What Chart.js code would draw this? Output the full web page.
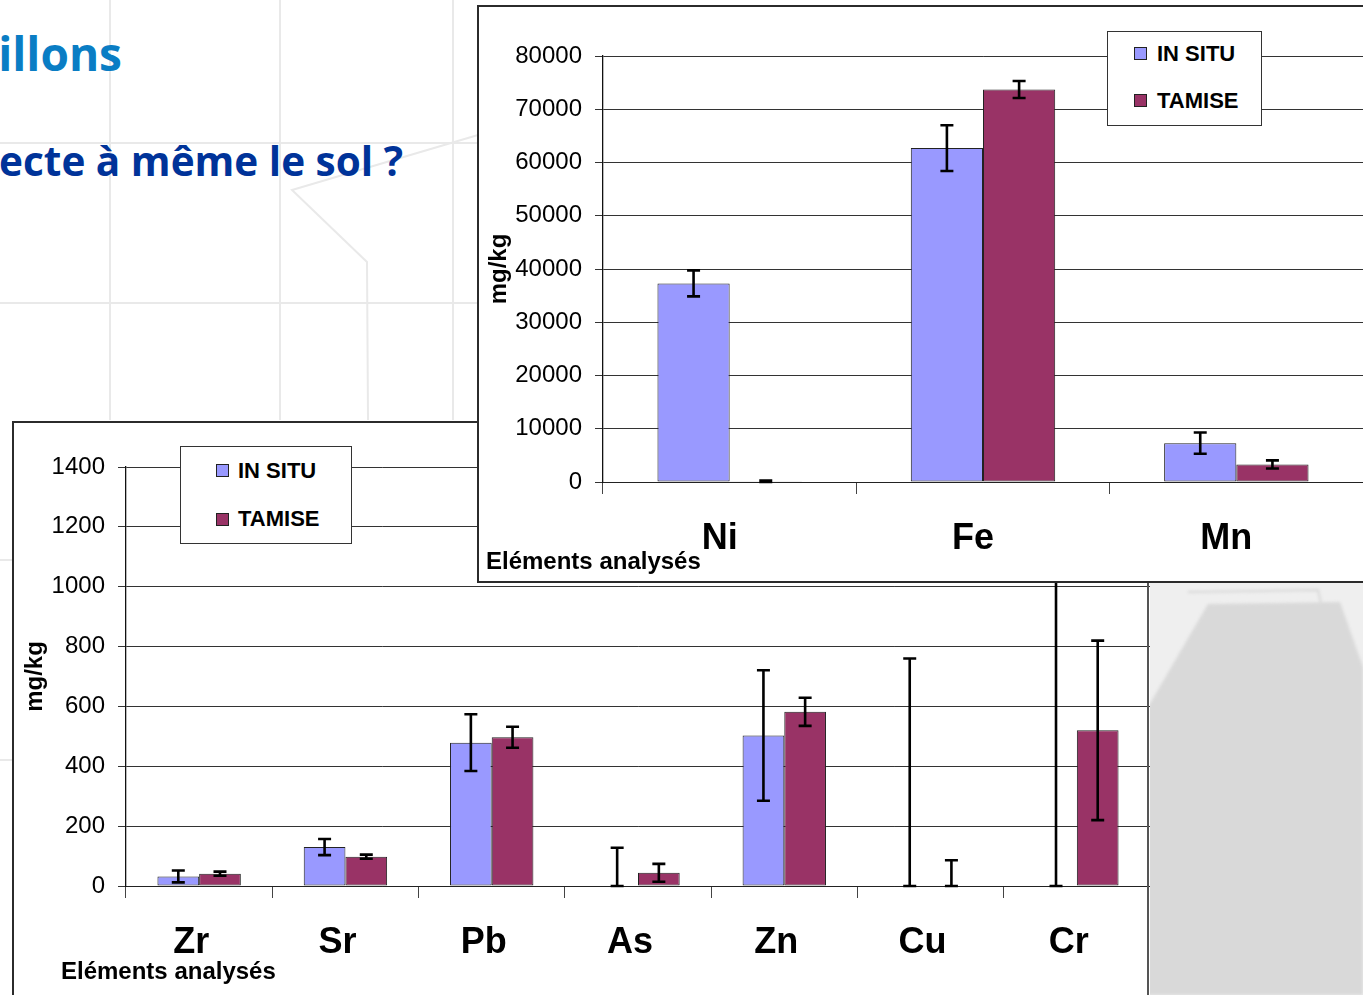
<!DOCTYPE html>
<html lang="fr">
<head>
<meta charset="utf-8">
<title>Eléments analysés</title>
<script src="https://cdn.jsdelivr.net/npm/chart.js@4.4.1/dist/chart.umd.min.js"></script>
<style>
  html, body { margin: 0; padding: 0; }
  body { width: 1363px; height: 995px; position: relative; overflow: hidden; background: #fff;
         font-family: 'Liberation Sans', Arial, sans-serif; }
  .abs { position: absolute; }
  .heading { font-family: 'Open Sans', 'Noto Sans', sans-serif; font-weight: 700; white-space: nowrap; line-height: 1; }
  #t1 { right: 1241px; top: 30px; font-size: 46px; color: #0a7dc4; }
  #t2 { right: 960px; top: 141px; font-size: 40.5px; color: #003399; }
  .panel { background: #fff; overflow: hidden; }
  .line { position: absolute; background: #2b2b2b; }
  .legend { position: absolute; background: #fff; border: 1px solid #333; box-sizing: border-box; }
  .legend .item { position: absolute; height: 24px; line-height: 24px; font-weight: 700; font-size: 22px; white-space: nowrap; }
  .legend .sw { position: absolute; width: 13px; height: 13px; border: 1px solid #222; box-sizing: border-box; }
  .xtitle { position: absolute; font-weight: 700; font-size: 24px; line-height: 24px; white-space: nowrap; color: #000; }
</style>
</head>
<body>

<!-- faint sketch behind the slide content -->
<svg class="abs" style="left:0;top:0" width="1363" height="995">
  <g stroke="#e9e9e9" stroke-width="2" fill="none">
    <line x1="110" y1="0" x2="110" y2="420"/>
    <line x1="280" y1="0" x2="280" y2="420"/>
    <line x1="453" y1="0" x2="453" y2="420"/>
    <line x1="0" y1="143" x2="478" y2="143"/>
    <line x1="0" y1="303" x2="478" y2="303"/>
    <polyline points="478,135 292,190 367,262 368,420"/>
    <line x1="0" y1="560" x2="13" y2="560"/>
    <line x1="0" y1="760" x2="13" y2="760"/>
  </g>
</svg>

<div id="t1" class="abs heading">illons</div>
<div id="t2" class="abs heading">ecte à même le sol ?</div>

<!-- grey drawing at the lower right -->
<div class="abs" style="left:1148px;top:582px;width:215px;height:413px;background:#efefef;overflow:hidden;">
  <svg width="215" height="413" style="filter:blur(1.5px)">
    <polyline points="40,10 170,8 175,30" stroke="#d8d8d8" stroke-width="2" fill="none"/>
    <polygon points="60,22 192,20 215,85 215,413 0,413 0,125" fill="#d9d9d9"/>
  </svg>
</div>

<!-- trace elements chart -->
<div class="abs panel" style="left:13px;top:422px;width:1137px;height:573px;">
  <canvas id="traceChart" width="1137" height="573"></canvas>
</div>
<div class="line" style="left:12px;top:421px;width:466px;height:2px;"></div>
<div class="line" style="left:12px;top:421px;width:2px;height:574px;"></div>
<div class="line" style="left:1147px;top:582px;width:2px;height:413px;background:#555;"></div>
<div id="legendTrace" class="legend" style="left:180px;top:446px;width:172px;height:98px;"></div>
<div class="xtitle" style="left:61px;top:959px;">Eléments analysés</div>

<!-- major elements chart -->
<div class="abs panel" style="left:478px;top:6px;width:885px;height:576px;">
  <canvas id="majorChart" width="885" height="576"></canvas>
</div>
<div class="line" style="left:477px;top:5px;width:886px;height:2px;"></div>
<div class="line" style="left:477px;top:5px;width:2px;height:578px;"></div>
<div class="line" style="left:477px;top:581px;width:886px;height:2px;"></div>
<div id="legendMajor" class="legend" style="left:1107px;top:31px;width:155px;height:95px;"></div>
<div class="xtitle" style="left:486px;top:549px;">Eléments analysés</div>

<script>
// Series shared by both charts
const seriesNames = ['IN SITU', 'TAMISE'];
const seriesColors = ['#9999FF', '#993366'];

// Major elements (mg/kg)
const majorCategories = ['Ni', 'Fe', 'Mn'];
const majorInSitu = [37300, 62700, 7300];
const majorInSituErr = [2450, 4300, 2000];
const majorTamise = [150, 73700, 3300];
const majorTamiseErr = [120, 1600, 770];
const majorTicks = [0, 10000, 20000, 30000, 40000, 50000, 60000, 70000, 80000];

// Trace elements (mg/kg)
const traceCategories = ['Zr', 'Sr', 'Pb', 'As', 'Zn', 'Cu', 'Cr'];
const traceInSitu = [32, 130, 479, 0, 503, 0, 0];
const traceInSituErr = [20, 27, 95, 128, 218, 760, 1250];
const traceTamise = [41, 98, 497, 44, 582, 0, 520];
const traceTamiseErr = [7, 7, 35, 30, 47, 86, 300];
const traceTicks = [0, 200, 400, 600, 800, 1000, 1200, 1400];

// Vertical error bars with caps, drawn over the bars
const errorBars = {
  id: 'errorBars',
  afterDatasetsDraw(chart) {
    const ctx = chart.ctx;
    const y = chart.scales.y;
    chart.data.datasets.forEach((ds, di) => {
      const meta = chart.getDatasetMeta(di);
      meta.data.forEach((bar, i) => {
        const v = ds.data[i];
        const e = ds.errors[i];
        const yTop = y.getPixelForValue(v + e);
        const yBot = y.getPixelForValue(Math.max(0, v - e));
        const half = 6.5;
        ctx.save();
        ctx.strokeStyle = '#000';
        ctx.lineWidth = 2.6;
        ctx.beginPath();
        ctx.moveTo(bar.x, yTop); ctx.lineTo(bar.x, yBot);
        ctx.moveTo(bar.x - half, yTop); ctx.lineTo(bar.x + half, yTop);
        ctx.moveTo(bar.x - half, yBot); ctx.lineTo(bar.x + half, yBot);
        ctx.stroke();
        ctx.restore();
      });
    });
  }
};

function buildLegend(el, rows) {
  rows.forEach((r) => {
    const sw = document.createElement('div');
    sw.className = 'sw';
    sw.style.left = r.swX + 'px';
    sw.style.top = r.swY + 'px';
    sw.style.background = r.color;
    el.appendChild(sw);
    const t = document.createElement('div');
    t.className = 'item';
    t.style.left = r.tX + 'px';
    t.style.top = r.tY + 'px';
    t.textContent = r.name;
    el.appendChild(t);
  });
}

function makeChart(canvasId, labels, inSitu, inSituErr, tamise, tamiseErr, ticks, geo) {
  const ctx = document.getElementById(canvasId);
  const barBorder = (c) => (c.raw > 0 ? 1 : 0);
  return new Chart(ctx, {
    type: 'bar',
    data: {
      labels: labels,
      datasets: [
        { label: seriesNames[0], data: inSitu, errors: inSituErr, backgroundColor: seriesColors[0],
          borderColor: '#222', borderWidth: barBorder, borderSkipped: false,
          categoryPercentage: 0.57, barPercentage: 1.0 },
        { label: seriesNames[1], data: tamise, errors: tamiseErr, backgroundColor: seriesColors[1],
          borderColor: '#222', borderWidth: barBorder, borderSkipped: false,
          categoryPercentage: 0.57, barPercentage: 1.0 }
      ]
    },
    options: {
      responsive: false,
      animation: false,
      devicePixelRatio: 1,
      layout: { padding: { left: 0, right: 0, top: geo.top, bottom: 0 } },
      plugins: { legend: { display: false }, tooltip: { enabled: false } },
      scales: {
        x: {
          offset: true,
          grid: { display: true, drawOnChartArea: false, drawTicks: true, tickLength: 12, color: '#444', offset: true },
          border: { display: true, color: '#222', width: 1 },
          ticks: { color: '#000', padding: 23, maxRotation: 0, labelOffset: geo.labelShift,
                   font: { family: "'Liberation Sans', Arial, sans-serif", size: 36, weight: 'bold' } },
          afterFit: (s) => { s.height = geo.xHeight; }
        },
        y: {
          min: ticks[0],
          max: ticks[ticks.length - 1],
          afterBuildTicks: (s) => { s.ticks = ticks.map((v) => ({ value: v })); },
          grid: { color: '#333', lineWidth: 1, tickLength: 8, drawTicks: true },
          border: { display: true, color: '#111', width: 1.3 },
          ticks: { color: '#000', padding: 13, callback: (v) => String(v),
                   font: { family: "'Liberation Sans', Arial, sans-serif", size: 24 } },
          title: { display: true, text: 'mg/kg', color: '#000', padding: { top: geo.titlePad, bottom: 0 },
                   font: { family: "'Liberation Sans', Arial, sans-serif", size: 24, weight: 'bold' } },
          afterFit: (s) => { s.width = geo.yWidth; }
        }
      }
    },
    plugins: [errorBars]
  });
}

makeChart('traceChart', traceCategories, traceInSitu, traceInSituErr, traceTamise, traceTamiseErr, traceTicks,
  { top: 45, xHeight: 109, yWidth: 113, titlePad: 8, labelShift: -8 });
makeChart('majorChart', majorCategories, majorInSitu, majorInSituErr, majorTamise, majorTamiseErr, majorTicks,
  { top: 50, xHeight: 100, yWidth: 125, titlePad: 7, labelShift: -10 });

buildLegend(document.getElementById('legendTrace'), [
  { name: seriesNames[0], color: seriesColors[0], swX: 35, swY: 17, tX: 57, tY: 12 },
  { name: seriesNames[1], color: seriesColors[1], swX: 35, swY: 66, tX: 57, tY: 60 }
]);
buildLegend(document.getElementById('legendMajor'), [
  { name: seriesNames[0], color: seriesColors[0], swX: 26, swY: 15, tX: 49, tY: 10 },
  { name: seriesNames[1], color: seriesColors[1], swX: 26, swY: 62, tX: 49, tY: 57 }
]);
</script>
</body>
</html>
